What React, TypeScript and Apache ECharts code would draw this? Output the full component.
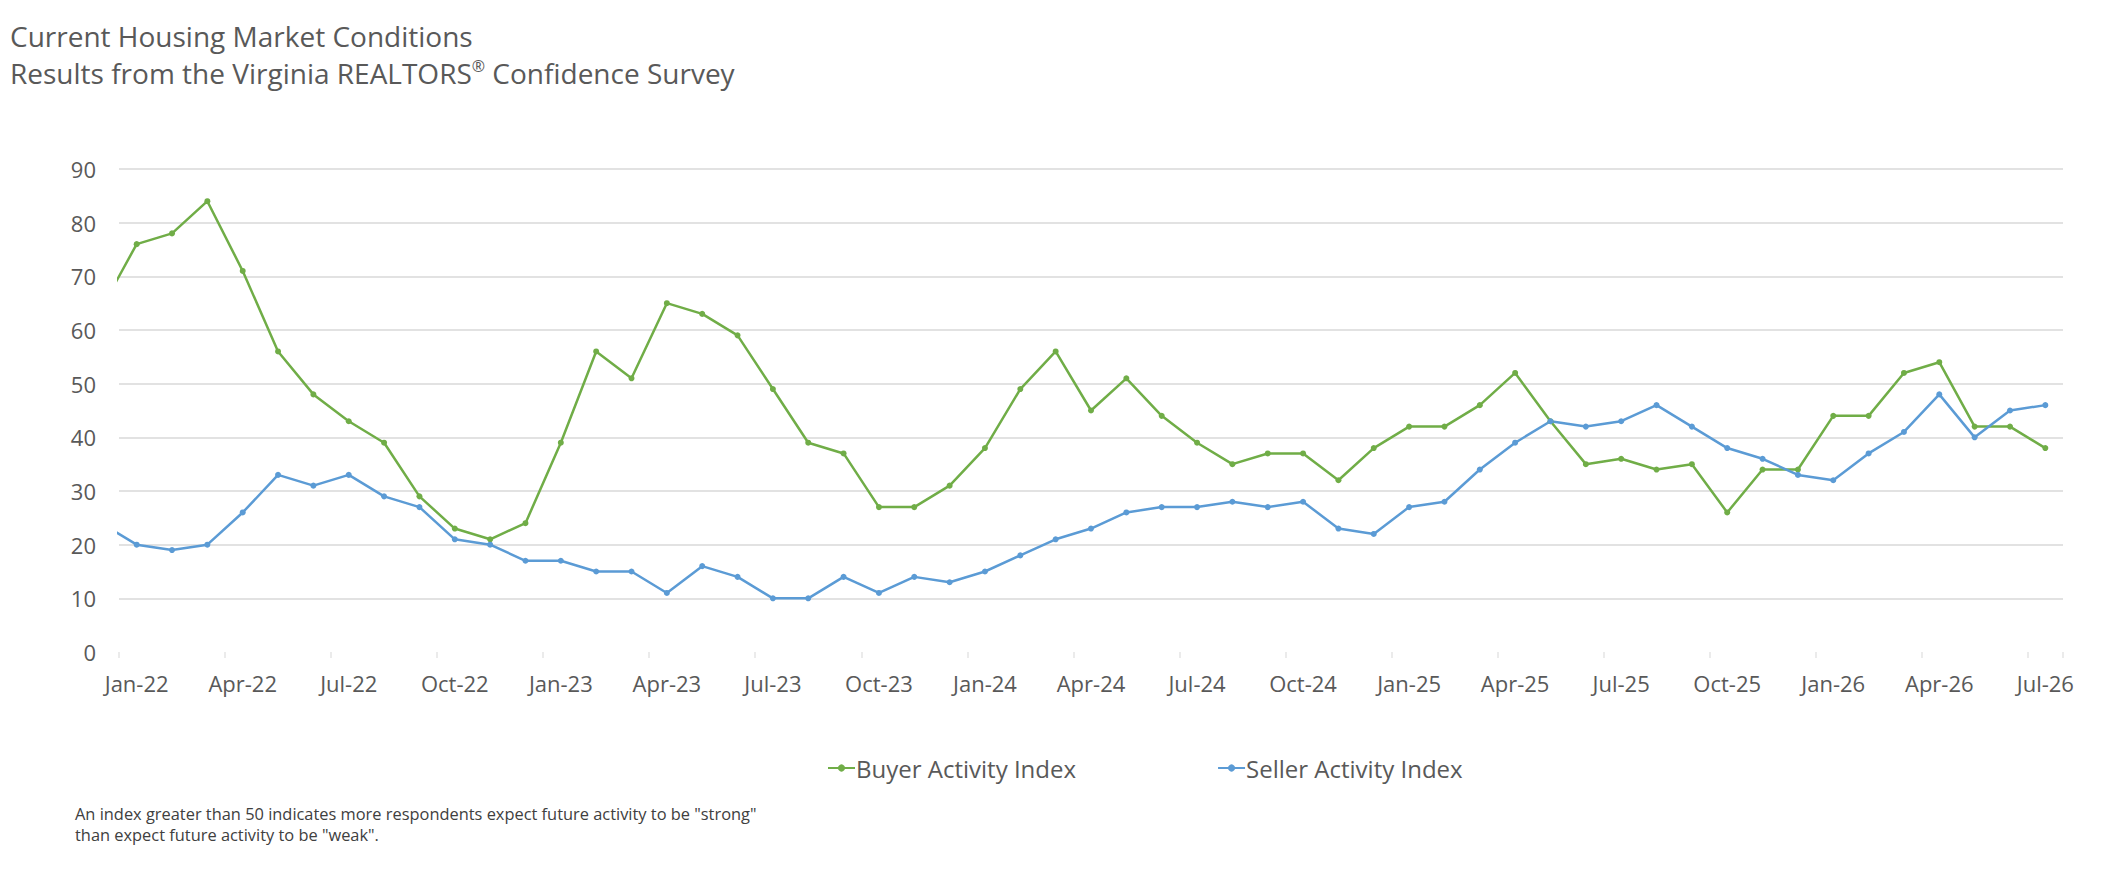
import React, { useEffect, useRef } from "react";
import * as echarts from "echarts";

// Monthly categories shown on the axis (Jan-22 .. Jul-26)
const monthNames = ["Jan", "Feb", "Mar", "Apr", "May", "Jun", "Jul", "Aug", "Sep", "Oct", "Nov", "Dec"];
const categories: string[] = [];
for (let y = 22; y <= 26; y++) {
  for (let m = 0; m < 12; m++) {
    if (y === 26 && m > 6) break;
    categories.push(`${monthNames[m]}-${y}`);
  }
}

// Value of the month before the first category (Dec-21), partly visible at the left edge
const buyerPrev = 64;
const sellerPrev = 24;

const buyerIndex = [
  76, 78, 84, 71, 56, 48, 43, 39, 29, 23, 21, 24,
  39, 56, 51, 65, 63, 59, 49, 39, 37, 27, 27, 31,
  38, 49, 56, 45, 51, 44, 39, 35, 37, 37, 32, 38,
  42, 42, 46, 52, 43, 35, 36, 34, 35, 26, 34, 34,
  44, 44, 52, 54, 42, 42, 38,
];

const sellerIndex = [
  20, 19, 20, 26, 33, 31, 33, 29, 27, 21, 20, 17,
  17, 15, 15, 11, 16, 14, 10, 10, 14, 11, 14, 13,
  15, 18, 21, 23, 26, 27, 27, 28, 27, 28, 23, 22,
  27, 28, 34, 39, 43, 42, 43, 46, 42, 38, 36, 33,
  32, 37, 41, 48, 40, 45, 46,
];

const titleLine1 = "Current Housing Market Conditions";
const titleLine2a = "Results from the Virginia REALTORS";
const titleSup = "®";
const titleLine2b = " Confidence Survey";
const footnoteLines = [
  'An index greater than 50 indicates more respondents expect future activity to be "strong"',
  'than expect future activity to be "weak".',
];

const GREEN = "#70ad47";
const BLUE = "#5b9bd5";
const GRAY = "#595959";
const FONT = "'Open Sans', 'Noto Sans', sans-serif";

function toPoints(prev: number, values: number[]) {
  return [[-1, prev], ...values.map((v, i) => [i, v])];
}

export default function App() {
  const ref = useRef<HTMLDivElement>(null);

  useEffect(() => {
    if (!ref.current) return;
    const chart = echarts.init(ref.current, undefined, { renderer: "svg" });
    const n = categories.length;
    chart.setOption({
      animation: false,
      backgroundColor: "#ffffff",
      textStyle: { fontFamily: FONT },
      title: {
        text: `${titleLine1}\n${titleLine2a}{sup|${titleSup}}${titleLine2b}`,
        left: 5,
        top: 12,
        textStyle: {
          fontFamily: FONT,
          fontSize: 28,
          fontWeight: "normal",
          color: GRAY,
          lineHeight: 37,
          rich: {
            sup: {
              fontFamily: FONT,
              fontSize: 16,
              color: GRAY,
              lineHeight: 37,
              verticalAlign: "top",
              padding: [4, 0, 0, 0],
            },
          },
        },
      },
      legend: {
        left: 822,
        top: 751,
        itemWidth: 27,
        itemHeight: 9,
        itemGap: 141,
        textStyle: { fontFamily: FONT, fontSize: 24, color: GRAY, padding: [0, 0, 0, -4] },
        data: ["Buyer Activity Index", "Seller Activity Index"],
      },
      grid: { left: 119, top: 169, width: 1944, height: 483, containLabel: false },
      xAxis: [
        {
          type: "category",
          data: categories,
          boundaryGap: true,
          axisLine: { show: false },
          axisTick: { show: true, interval: 2, length: 6, lineStyle: { color: "#e4e4e4", width: 1.5 } },
          axisLabel: {
            interval: 2,
            margin: 20,
            fontFamily: FONT,
            fontSize: 22,
            color: GRAY,
          },
          splitLine: { show: false },
        },
        {
          type: "value",
          min: -0.5,
          max: n - 0.5,
          show: false,
          splitLine: { show: false },
        },
      ],
      yAxis: {
        type: "value",
        min: 0,
        max: 90,
        interval: 10,
        axisLine: { show: false },
        axisTick: { show: false },
        axisLabel: { margin: 23, fontFamily: FONT, fontSize: 22, color: GRAY },
        splitLine: { show: true, showMinLine: false, lineStyle: { color: "#d9d9d9", width: 1.5 } },
      },
      series: [
        {
          name: "Buyer Activity Index",
          type: "line",
          xAxisIndex: 1,
          data: toPoints(buyerPrev, buyerIndex),
          clip: true,
          symbol: "circle",
          symbolSize: 6,
          lineStyle: { color: GREEN, width: 2.5 },
          itemStyle: { color: GREEN },
        },
        {
          name: "Seller Activity Index",
          type: "line",
          xAxisIndex: 1,
          data: toPoints(sellerPrev, sellerIndex),
          clip: true,
          symbol: "circle",
          symbolSize: 6,
          lineStyle: { color: BLUE, width: 2.5 },
          itemStyle: { color: BLUE },
        },
      ],
      graphic: footnoteLines.map((t, i) => ({
        type: "text",
        left: 75,
        top: 805 + i * 21,
        style: { text: t, fontFamily: FONT, fontSize: 16.4, fill: "#404040" },
      })),
    });
    return () => chart.dispose();
  }, []);

  return (
    <div
      ref={ref}
      style={{ position: "absolute", left: 0, top: 0, width: 2117, height: 892 }}
    />
  );
}
